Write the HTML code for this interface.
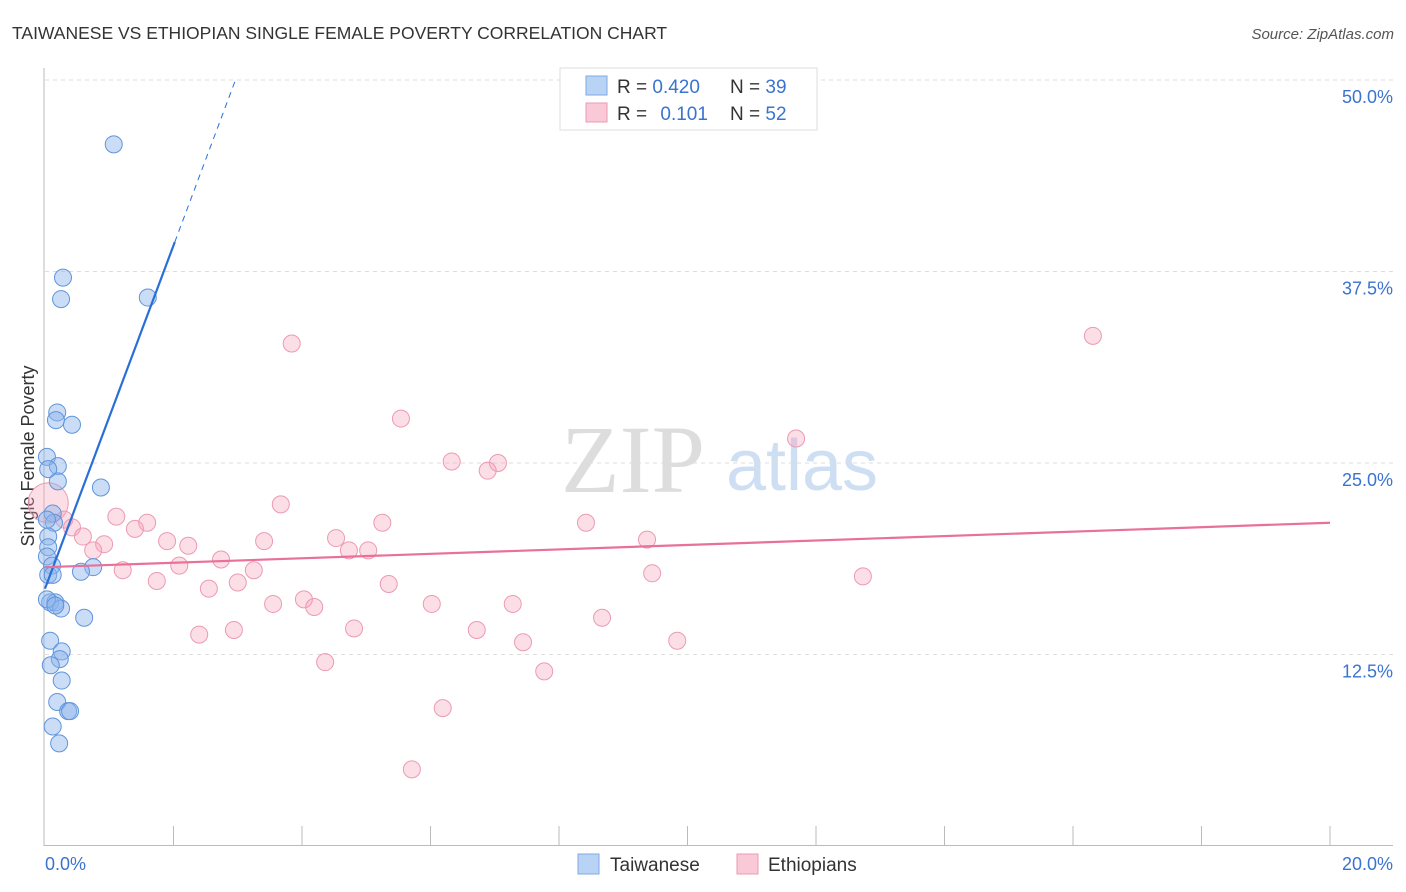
<!DOCTYPE html>
<html><head><meta charset="utf-8"><style>
body{margin:0;background:#fff;font-family:"Liberation Sans",sans-serif;}
#wrap{position:relative;width:1406px;height:892px;overflow:hidden;}
svg{position:absolute;left:0;top:0;}
</style></head><body>
<div id="wrap">
<svg id="svg" width="1406" height="892">
<text x="12" y="39" font-size="17.5" fill="#333">TAIWANESE VS ETHIOPIAN SINGLE FEMALE POVERTY CORRELATION CHART</text>
<text x="1394" y="39" font-size="15" font-style="italic" fill="#555" text-anchor="end">Source: ZipAtlas.com</text>
<text x="34" y="456" font-size="18" fill="#333" text-anchor="middle" transform="rotate(-90 34 456)">Single Female Poverty</text>
<text x="633" y="492" font-size="96" font-family="Liberation Serif,serif" fill="#ddd" text-anchor="middle">ZIP</text>
<text x="802" y="490" font-size="72" fill="#cfdff3" text-anchor="middle">atlas</text>
<g id="grid"></g><g id="axes"></g><g id="pts"></g><g id="trend"></g>
<g>
<rect x="560" y="68" width="257" height="62" fill="#fff" stroke="#ddd"/>
<rect x="586" y="76" width="21" height="19" fill="#b9d3f5" stroke="#7fa9e3"/>
<rect x="586" y="103" width="21" height="19" fill="#f9c9d7" stroke="#ec9ab3"/>
<text x="617" y="93" font-size="19" fill="#333">R = <tspan fill="#3a73d0">0.420</tspan></text>
<text x="730" y="93" font-size="19" fill="#333">N = <tspan fill="#3a73d0">39</tspan></text>
<text x="617" y="120" font-size="19" fill="#333">R = <tspan fill="#3a73d0" dx="8">0.101</tspan></text>
<text x="730" y="120" font-size="19" fill="#333">N = <tspan fill="#3a73d0">52</tspan></text>
</g>
<g>
<rect x="578" y="854" width="21" height="20" fill="#b9d3f5" stroke="#7fa9e3"/>
<text x="610" y="871" font-size="19" fill="#333">Taiwanese</text>
<rect x="737" y="854" width="21" height="20" fill="#f9c9d7" stroke="#ec9ab3"/>
<text x="768" y="871" font-size="19" fill="#333">Ethiopians</text>
</g>
</svg>
</div>
<script>
const yTicks=[12.5,25,37.5,50];
const yTickLabels=["12.5%","25.0%","37.5%","50.0%"];
const xTickLabels=["0.0%","20.0%"];
const twX=[1.07,0.28,0.25,1.60,0.19,0.17,0.42,0.03,0.20,0.05,0.20,0.87,0.12,0.14,0.05,0.05,0.03,0.11,0.05,0.12,0.75,0.56,0.08,0.16,0.25,0.61,0.08,0.26,0.23,0.09,0.26,0.19,0.36,0.39,0.12,0.22,0.03,0.16,0.03];
const twY=[45.8,37.1,35.7,35.8,28.3,27.8,27.5,25.4,24.8,24.6,23.8,23.4,21.7,21.1,20.2,19.5,18.9,18.3,17.7,17.7,18.2,17.9,15.9,15.9,15.5,14.9,13.4,12.7,12.2,11.8,10.8,9.4,8.8,8.8,7.8,6.7,16.1,15.7,21.3];
const etX=[0.05,3.84,16.31,5.54,11.69,6.33,7.05,6.89,3.67,1.11,1.59,0.30,0.42,5.25,8.42,1.40,0.59,0.92,1.90,3.41,4.53,9.37,2.23,0.75,4.73,5.03,2.74,2.09,1.21,3.25,9.45,12.73,1.74,3.00,5.35,2.55,4.03,3.55,4.19,6.02,7.28,8.67,2.40,2.94,4.81,6.72,7.44,9.84,4.36,7.77,6.19,5.71];
const etY=[22.4,32.8,33.3,27.9,26.6,25.1,25.0,24.5,22.3,21.5,21.1,21.3,20.8,21.1,21.1,20.7,20.2,19.7,19.9,19.9,20.1,20.0,19.6,19.3,19.3,19.3,18.7,18.3,18.0,18.0,17.8,17.6,17.3,17.2,17.1,16.8,16.1,15.8,15.6,15.8,15.8,14.9,13.8,14.1,14.2,14.1,13.3,13.4,12.0,11.4,9.0,5.0];
const twTrend=[16.8,11.2]; // intercept, slope
const etTrend=[18.2,0.145];
const X0=45,X1=1330,Y0=846,PY=15.32;
const sx=v=>X0+(X1-X0)*v/20, sy=v=>Y0-v*PY;
const NS="http://www.w3.org/2000/svg";
function mk(tag,parent,attrs){const e=document.createElementNS(NS,tag);for(const k in attrs)e.setAttribute(k,attrs[k]);document.getElementById(parent).appendChild(e);return e;}
yTicks.forEach((t,i)=>{
 const l=mk('line','grid',{x1:45,x2:1393,y1:sy(t),y2:sy(t),stroke:'#ddd','stroke-dasharray':'4,4'});
 
 
 const tx=mk('text','grid',{x:1393,y:sy(t)+23,'font-size':18,fill:'#3a73d0','text-anchor':'end'});
 tx.textContent=yTickLabels[i];
 
 
});
let a=mk('line','axes',{x1:44,x2:44,y1:68,y2:846,stroke:'#bbb'});


a=mk('line','axes',{x1:44,x2:1393,y1:845.5,y2:845.5,stroke:'#bbb'});


for(let i=1;i<=10;i++){const t=mk('line','axes',{x1:sx(i*2),x2:sx(i*2),y1:826,y2:845,stroke:'#bbb'});
 
 }
[[0,'start',45],[20,'end',1393]].forEach((d,i)=>{const t=mk('text','axes',{x:d[2],y:870,'font-size':18,fill:'#3a73d0','text-anchor':d[1]});t.textContent=xTickLabels[i];
 
 });
etX.forEach((x,i)=>{const c=mk('circle','pts',{cx:sx(x),cy:sy(etY[i]),r:i==0?20:8.5,fill:'rgba(245,160,185,0.35)',stroke:'#ec9ab3','stroke-width':1});
 
 });
twX.forEach((x,i)=>{const c=mk('circle','pts',{cx:sx(x),cy:sy(twY[i]),r:8.5,fill:'rgba(140,180,235,0.45)',stroke:'#5f95dc','stroke-width':1});
 
 });
let t=mk('line','trend',{x1:sx(0),y1:sy(twTrend[0]),x2:sx(2.02),y2:sy(twTrend[0]+twTrend[1]*2.02),stroke:'#2a6fd6','stroke-width':2.2});


t=mk('line','trend',{x1:sx(2.02),y1:sy(twTrend[0]+twTrend[1]*2.02),x2:sx(2.96),y2:sy(twTrend[0]+twTrend[1]*2.96),stroke:'#2a6fd6','stroke-width':1,'stroke-dasharray':'6,5'});


t=mk('line','trend',{x1:sx(0),y1:sy(etTrend[0]),x2:sx(20),y2:sy(etTrend[0]+etTrend[1]*20),stroke:'#e8709a','stroke-width':2.2});


</script>
</body></html>
